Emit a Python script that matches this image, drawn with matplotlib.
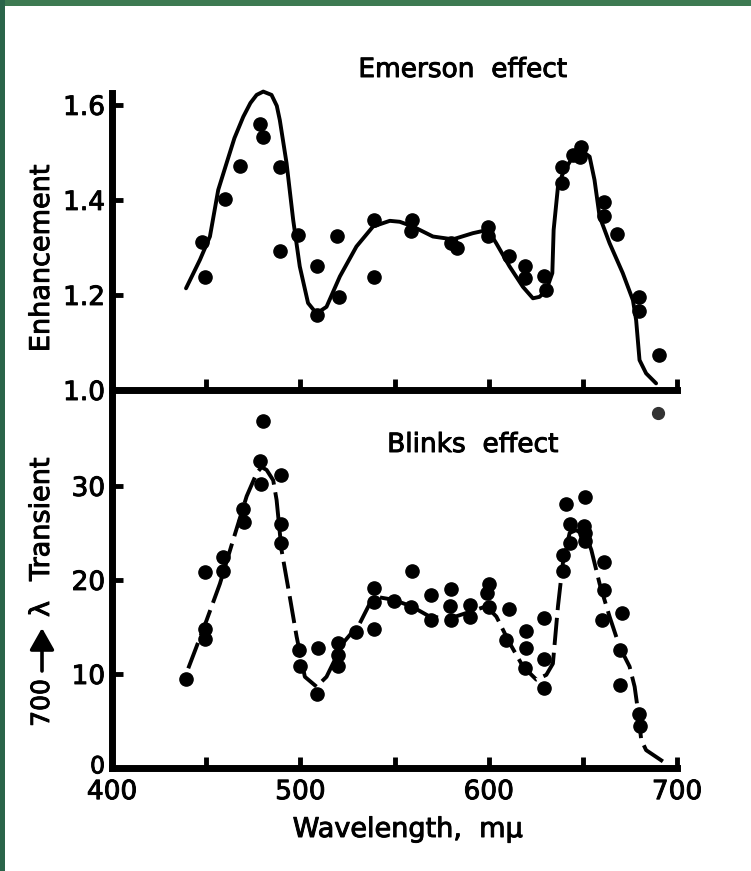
import matplotlib
matplotlib.use("Agg")
import matplotlib.pyplot as plt
import matplotlib.patheffects as pe
import matplotlib.transforms as mtransforms
from matplotlib.patches import Rectangle, FancyArrowPatch

# ---------------- data ----------------
em_wl = [448, 449.5, 460, 468, 478.5, 480, 489, 489, 499, 508.6, 509, 519.7, 520.4,
         539, 539, 559.3, 559, 580.2, 583, 599.6, 599.6, 611, 619.5, 619.5, 629.4, 630.2,
         639, 639, 644.7, 648.8, 648.3, 661.2, 661.2, 668.3, 679.6, 679.6, 690.4]
em_val = [1.311, 1.237, 1.402, 1.472, 1.559, 1.532, 1.470, 1.293, 1.326, 1.260, 1.158, 1.324, 1.196,
          1.358, 1.237, 1.358, 1.335, 1.310, 1.298, 1.344, 1.325, 1.283, 1.260, 1.235, 1.240, 1.210,
          1.470, 1.436, 1.495, 1.512, 1.491, 1.395, 1.367, 1.328, 1.195, 1.167, 1.074]

em_curve_wl = [439.3, 446.7, 452, 456.4, 460.8, 465, 469.7, 473.5, 476.8, 480.3, 484.7, 487.5,
               489.1, 492.7, 496.2, 499.7, 504.1, 508.6, 513.9, 521, 529.8, 538.6, 547.5, 552.8,
               559.8, 570.4, 581, 591.6, 599.6, 604, 611.1, 618.2, 623.5, 627, 630.6, 633.8,
               634.5, 636.8, 639.4, 644.7, 650, 653.6, 656.2, 658.9, 664.2, 671.2, 676.6, 678.3,
               680.1, 683.6, 688.9]
em_curve_val = [1.214, 1.274, 1.323, 1.421, 1.477, 1.530, 1.575, 1.604, 1.621, 1.628, 1.621, 1.598,
                1.568, 1.477, 1.358, 1.260, 1.183, 1.161, 1.175, 1.239, 1.302, 1.344, 1.356, 1.354,
                1.344, 1.323, 1.317, 1.330, 1.337, 1.309, 1.260, 1.217, 1.193, 1.196, 1.210, 1.246,
                1.337, 1.428, 1.456, 1.491, 1.502, 1.491, 1.442, 1.365, 1.309, 1.246, 1.189, 1.147,
                1.063, 1.035, 1.014]

bl_wl = [439.3, 449.5, 449.2, 449.5, 459, 458.7, 469.3, 470, 478.5, 478.9, 480.3, 489.7, 489.5, 489.5,
         499.4, 499.7, 509.4, 508.9, 520, 520, 520, 529.4, 539.1, 539.1, 539.1, 549.6, 559, 559.3,
         569.6, 569.2, 579.8, 579.7, 579.8, 590.3, 590.3, 600.2, 599.1, 600.2, 610.6, 609.4,
         620, 620, 619.1, 629.2, 629.2, 629.2, 639.4, 639.4, 640.8, 643.3, 643.3,
         650.9, 650.6, 650.9, 650.9, 661, 661, 660.1, 670.9, 669.8, 669.5, 679.7, 680.1]
bl_val = [9.5, 14.8, 13.7, 20.85, 22.4, 20.96, 27.5, 26.2, 32.6, 30.2, 36.9, 31.2, 25.9, 23.9,
          12.6, 10.8, 12.8, 7.84, 13.3, 12.0, 10.8, 14.5, 19.1, 17.7, 14.75, 17.8, 17.1, 20.96,
          18.4, 15.7, 19.0, 17.2, 15.7, 17.3, 16.1, 19.6, 18.6, 17.1, 16.9, 13.6,
          14.6, 12.8, 10.6, 16.0, 11.6, 8.5, 20.9, 22.7, 28.05, 26.0, 23.9,
          28.8, 25.7, 25.0, 24.1, 21.9, 18.9, 15.7, 16.5, 12.6, 8.8, 5.74, 4.47]

bl_curve_wl = [440.5, 450.2, 457.3, 464.4, 471.5, 476.8, 479.4, 482.1, 485.6, 487.4, 490, 494.4,
               498, 502.4, 508.6, 513.9, 522.7, 531.6, 536.9, 540.4, 549.2, 559, 568.7, 579.3,
               589.9, 598.8, 604.1, 611.1, 618.2, 625.3, 630.6, 634.1, 636.8, 639.4, 643, 646.5,
               651.8, 654.5, 658.9, 664.2, 669.5, 674.8, 677.5, 679.2, 681, 683.6, 692.5]
bl_curve_val = [10.6, 15.7, 19.6, 24.3, 28.9, 31.35, 32.0, 31.7, 30.6, 28.5, 23.2, 18.2,
                14.0, 9.7, 8.65, 9.7, 13.3, 15.4, 17.5, 18.2, 17.9, 17.2, 16.1, 15.9,
                16.6, 17.2, 16.1, 13.3, 10.8, 9.4, 9.9, 11.1, 17.2, 21.8, 25.0, 25.3,
                24.6, 23.2, 19.6, 16.1, 12.9, 10.8, 8.65, 6.2, 3.0, 1.9, 0.7]

stray_wl = [689.7]
stray_val = [37.8]

em_ticks = [1.0, 1.2, 1.4, 1.6]
bl_ticks = [0, 10, 20, 30]
x_major = [400, 500, 600, 700]
x_minor = [450, 550, 650]

# ---------------- figure ----------------
plt.rcParams['font.family'] = ['DejaVu Sans']
EFF = [pe.withStroke(linewidth=0.7, foreground='black')]

W, H = 751, 871
fig = plt.figure(figsize=(W / 100, H / 100), dpi=100)
fig.patch.set_facecolor('white')

left = 112 / W
width = (677 - 112) / W
ax1 = fig.add_axes([left, 1 - 390 / H, width, (390 - 93) / H])
ax2 = fig.add_axes([left, 1 - 768 / H, width, (768 - 390) / H])

LW_SP = 5.0
for ax in (ax1, ax2):
    ax.set_xlim(400, 700)
    ax.set_facecolor('none')
    for s in ('top', 'right'):
        ax.spines[s].set_visible(False)
    for s in ('left', 'bottom'):
        ax.spines[s].set_linewidth(LW_SP)
        ax.spines[s].set_capstyle('projecting')
    ax.set_xticks(x_major)
    ax.set_xticks(x_minor, minor=True)
    ax.tick_params(which='both', direction='in', length=8, width=3.5, color='black')
    ax.tick_params(axis='y', labelsize=19, pad=5)

ax1.set_ylim(1.0, 1.625)
ax1.set_yticks(em_ticks)
ax1.set_yticklabels([f"{t:.1f}" for t in em_ticks])
ax1.tick_params(axis='x', labelbottom=False)

ax2.set_ylim(0, 40.2)
ax2.set_yticks(bl_ticks)
ax2.set_yticklabels([str(t) for t in bl_ticks])
ax2.set_xticklabels([str(t) for t in x_major], fontsize=19)
ax2.tick_params(axis='x', pad=8)

for ax in (ax1, ax2):
    for t in ax.get_yticklabels() + ax.get_xticklabels():
        t.set_path_effects(EFF)

# the "0" label sits a little higher and smaller, just above "400"
zero_lab = ax2.yaxis.get_major_ticks()[0].label1
zero_lab.set_fontsize(17)
zero_lab.set_transform(zero_lab.get_transform() +
                       mtransforms.ScaledTranslation(0, 3 / 72, fig.dpi_scale_trans))

# Emerson panel
ax1.plot(em_curve_wl, em_curve_val, color='black', lw=2.8, solid_joinstyle='round',
         solid_capstyle='round', clip_on=False)
ax1.plot(em_wl, em_val, 'o', color='black', ms=9.5, clip_on=False)

# Blinks panel
ax2.plot(bl_curve_wl, bl_curve_val, color='black', lw=2.8, dashes=(7, 2),
         dash_capstyle='butt', clip_on=False)
ax2.plot(bl_wl, bl_val, 'o', color='black', ms=9.5, clip_on=False)
ax2.plot(stray_wl, stray_val, 'o', color='#333333', ms=8.5, clip_on=False)

# texts
def ftext(x, y, s, **kw):
    t = fig.text(x / W, 1 - y / H, s, ha='center', va='center', **kw)
    t.set_path_effects(EFF)
    return t

ftext(463, 70, 'Emerson  effect', fontsize=19)
ftext(473, 445, 'Blinks  effect', fontsize=19)
ftext(42, 258, 'Enhancement', rotation=90, fontsize=19.5)
ftext(408, 830, 'Wavelength,  m\u03bc', fontsize=19.5)

# "700 -> lambda  Transient" (vertical)
ftext(42, 703, '700', rotation=90, fontsize=18)
fig.add_artist(FancyArrowPatch((42 / W, 1 - 671 / H), (42 / W, 1 - 628 / H),
                               transform=fig.transFigure,
                               arrowstyle='-|>,head_length=0.6,head_width=0.34',
                               mutation_scale=22, lw=2.6, color='black',
                               shrinkA=0, shrinkB=0))
ftext(42, 609, '\u03bb', rotation=90, fontsize=19.5)
ftext(42, 519, 'Transient', rotation=90, fontsize=19.5)

# green frame
fig.add_artist(Rectangle((0, 1 - 6 / H), 1, 6 / H, transform=fig.transFigure,
                         facecolor='#3d7a52', edgecolor='none', zorder=10))
fig.add_artist(Rectangle((0, 0), 5 / W, 1, transform=fig.transFigure,
                         facecolor='#2a6449', edgecolor='none', zorder=10))

fig.savefig('out.png', dpi=100, facecolor='white')
